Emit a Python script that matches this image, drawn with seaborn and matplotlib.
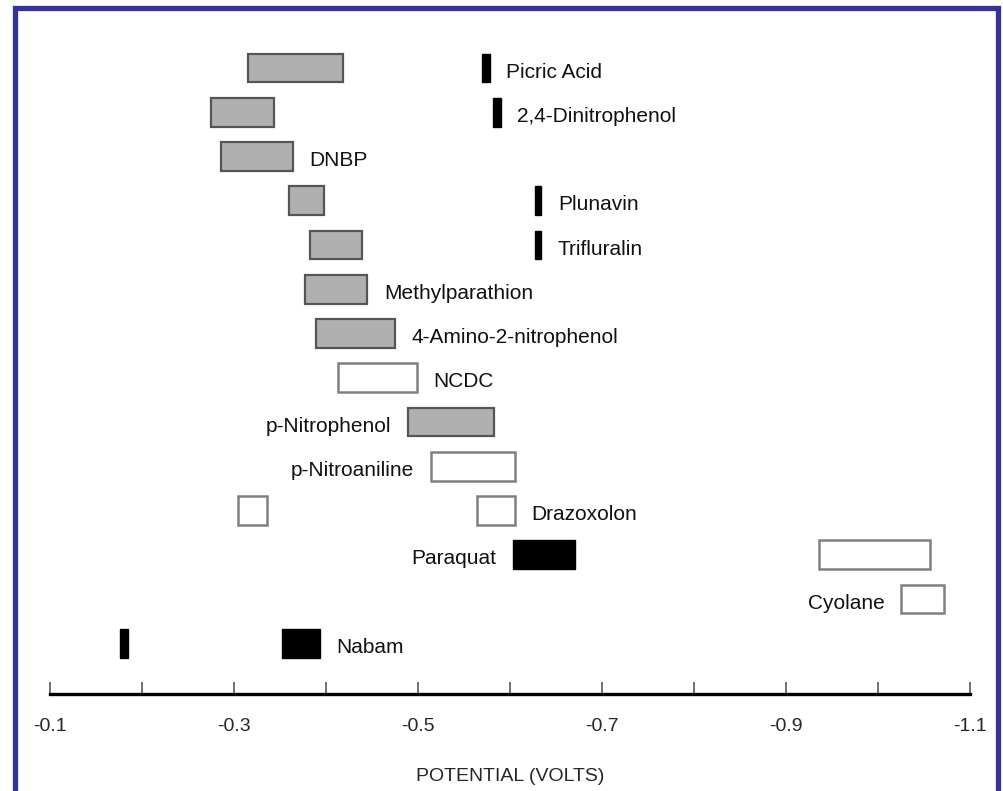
import matplotlib
matplotlib.use("Agg")
import matplotlib.pyplot as plt
import seaborn as sns
import pandas as pd
from matplotlib.patches import Rectangle
from matplotlib.ticker import FixedLocator, NullFormatter, FixedFormatter

# Compounds, one per row from top to bottom
compounds = ["Picric Acid", "2,4-Dinitrophenol", "DNBP", "Plunavin", "Trifluralin",
             "Methylparathion", "4-Amino-2-nitrophenol", "NCDC", "p-Nitrophenol",
             "p-Nitroaniline", "Drazoxolon", "Paraquat", "Cyolane", "Nabam"]
label_side = ["right", "right", "right", "right", "right", "right", "right", "right",
              "left", "left", "right", "left", "left", "right"]

# Potential ranges (V) of each wave, with the row it sits on and its class
seg_row = [0, 0, 1, 1, 2, 3, 3, 4, 4, 5, 6, 7, 8, 9, 10, 10, 11, 11, 12, 13, 13]
seg_start = [-0.315, -0.570, -0.275, -0.582, -0.286, -0.360, -0.627, -0.383, -0.627,
             -0.377, -0.389, -0.413, -0.489, -0.514, -0.304, -0.564, -0.603, -0.936,
             -1.025, -0.176, -0.352]
seg_end = [-0.418, -0.578, -0.343, -0.590, -0.364, -0.398, -0.634, -0.439, -0.634,
           -0.445, -0.475, -0.499, -0.583, -0.605, -0.336, -0.605, -0.671, -1.057,
           -1.072, -0.185, -0.393]
seg_kind = ["gray", "black", "gray", "black", "gray", "gray", "black", "gray", "black",
            "gray", "gray", "white", "gray", "white", "white", "white", "black", "white",
            "white", "black", "black"]

tick_major = [-0.1, -0.3, -0.5, -0.7, -0.9, -1.1]
tick_minor = [-0.2, -0.4, -0.6, -0.8, -1.0]
tick_labels = ["-0.1", "-0.3", "-0.5", "-0.7", "-0.9", "-1.1"]

segs = pd.DataFrame({"row": seg_row, "start": seg_start, "end": seg_end, "kind": seg_kind})

sns.set_theme(style="white")
plt.rcParams["font.family"] = ["Liberation Sans", "DejaVu Sans"]

fig = plt.figure(figsize=(10.04, 7.91), dpi=100)
ax = fig.add_axes([50 / 1004, 1 - 694 / 791, 920 / 1004, 664 / 791])

styles = {
    "gray": dict(facecolor="#b0b0b0", edgecolor="#555555", linewidth=1.6),
    "white": dict(facecolor="white", edgecolor="#808080", linewidth=1.8),
    "black": dict(facecolor="black", edgecolor="black", linewidth=1.0),
}
bar_h = 0.65
for _, s in segs.iterrows():
    ax.barh(s["row"], s["end"] - s["start"], left=s["start"], height=bar_h,
            align="center", **styles[s["kind"]], zorder=3)

# Compound names beside their waves
for i, name in enumerate(compounds):
    rs = segs[segs["row"] == i]
    if label_side[i] == "right":
        x = rs["end"].min()
        ax.annotate(name, (x, i), xytext=(12, -3), textcoords="offset points",
                    ha="left", va="center", fontsize=15, color="#111111")
    else:
        x = rs["start"].max()
        ax.annotate(name, (x, i), xytext=(-12, -3), textcoords="offset points",
                    ha="right", va="center", fontsize=15, color="#111111")

ax.set_xlim(-0.1, -1.1)
ax.set_ylim(14.15, -0.86)
ax.set_yticks([])
for side in ["top", "left", "right"]:
    ax.spines[side].set_visible(False)
ax.spines["bottom"].set_linewidth(2.4)
ax.spines["bottom"].set_color("black")

ax.xaxis.set_major_locator(FixedLocator(tick_major))
ax.xaxis.set_major_formatter(FixedFormatter(tick_labels))
ax.xaxis.set_minor_locator(FixedLocator(tick_minor))
ax.xaxis.set_minor_formatter(NullFormatter())
ax.tick_params(axis="x", which="both", direction="in", length=9, width=1.3,
               color="#666666", bottom=True)
ax.tick_params(axis="x", which="major", pad=17, labelsize=14)
ax.set_xlabel("POTENTIAL (VOLTS)", fontsize=14, labelpad=24)
ax.patch.set_alpha(0)

# Blue frame around the figure
frame = Rectangle((15.5 / 1004, -0.05), (998.5 - 15.5) / 1004, 1.05 - 8 / 791,
                  transform=fig.transFigure, fill=False, edgecolor="#333399",
                  linewidth=3.8, clip_on=False)
fig.patches.append(frame)

fig.savefig("out.png", dpi=100)
